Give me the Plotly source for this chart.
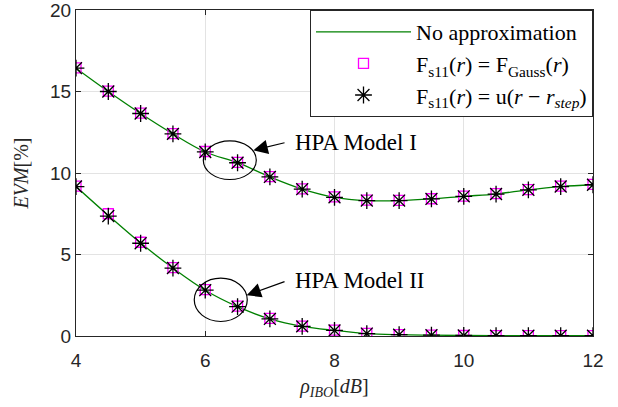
import plotly.graph_objects as go

ibo = [4, 4.5, 5, 5.5, 6, 6.5, 7, 7.5, 8, 8.5, 9, 9.5, 10, 10.5, 11, 11.5, 12]

evm_model1_exact = [16.43, 15.0, 13.65, 12.4, 11.29, 10.63, 9.76, 9.01, 8.51, 8.31, 8.31, 8.41, 8.57, 8.71, 8.97, 9.17, 9.28]
evm_model1_gauss = [16.45, 15.02, 13.67, 12.42, 11.32, 10.65, 9.78, 9.03, 8.53, 8.33, 8.32, 8.42, 8.58, 8.73, 8.98, 9.19, 9.3]
evm_model1_step = [16.43, 15.0, 13.65, 12.4, 11.29, 10.63, 9.76, 9.01, 8.51, 8.31, 8.31, 8.41, 8.57, 8.71, 8.97, 9.17, 9.28]

evm_model2_exact = [9.17, 7.4, 5.7, 4.17, 2.81, 1.8, 1.05, 0.59, 0.34, 0.15, 0.08, 0.05, 0.03, 0.02, 0.02, 0.02, 0.02]
evm_model2_gauss = [9.2, 7.5, 5.75, 4.2, 2.85, 1.83, 1.08, 0.61, 0.36, 0.16, 0.09, 0.05, 0.03, 0.02, 0.02, 0.02, 0.02]
evm_model2_step = [9.17, 7.36, 5.69, 4.17, 2.81, 1.8, 1.05, 0.59, 0.34, 0.15, 0.08, 0.05, 0.03, 0.02, 0.02, 0.02, 0.02]

x_ticks = [4, 6, 8, 10, 12]
y_ticks = [0, 5, 10, 15, 20]

legend_labels = [
    "No approximation",
    "F<sub>s11</sub>(<i>r</i>) = F<sub>Gauss</sub>(<i>r</i>)",
    "F<sub>s11</sub>(<i>r</i>) = u(<i>r</i> − <i>r</i><sub><i>step</i></sub>)",
]
annot_labels = ["HPA Model I", "HPA Model II"]

SERIF = "Liberation Serif"
SANS = "Liberation Sans"
GREEN = "#008000"
MAGENTA = "#ff00ff"

fig = go.Figure()

for i, y in enumerate([evm_model1_exact, evm_model2_exact]):
    fig.add_trace(go.Scatter(
        x=ibo, y=y, mode="lines", line=dict(color=GREEN, width=1.3, shape="spline"),
        name=legend_labels[0], legendgroup="exact", showlegend=(i == 0)))

for i, y in enumerate([evm_model1_gauss, evm_model2_gauss]):
    fig.add_trace(go.Scatter(
        x=ibo, y=y, mode="markers",
        marker=dict(symbol="square-open", size=10, color=MAGENTA, line=dict(width=1.3, color=MAGENTA)),
        name=legend_labels[1], legendgroup="gauss", showlegend=(i == 0)))

for i, y in enumerate([evm_model1_step, evm_model2_step]):
    fig.add_trace(go.Scatter(
        x=ibo, y=y, mode="markers",
        marker=dict(symbol="asterisk-open", size=14, color="black", line=dict(width=1.3, color="black")),
        name=legend_labels[2], legendgroup="step", showlegend=(i == 0)))

# ellipses
fig.add_shape(type="circle", xref="x", yref="y", x0=5.97, x1=6.79, y0=9.6, y1=11.97,
              line=dict(color="black", width=1.2))
fig.add_shape(type="circle", xref="x", yref="y", x0=5.83, x1=6.65, y0=0.89, y1=3.55,
              line=dict(color="black", width=1.2))

# arrows
for (tx, ty, hx, hy) in [(7.25, 11.88, 6.745, 11.39), (7.25, 3.37, 6.64, 2.5)]:
    fig.add_annotation(x=hx, y=hy, ax=tx, ay=ty, xref="x", yref="y", axref="x", ayref="y",
                       text="", showarrow=True, arrowhead=2, arrowsize=2.4, arrowwidth=1.2,
                       arrowcolor="black", standoff=0, startstandoff=0)

for label, (lx, ly) in zip(annot_labels, [(7.36, 11.9), (7.36, 3.43)]):
    fig.add_annotation(x=lx, y=ly, xref="x", yref="y", text=label, showarrow=False,
                       xanchor="left", yanchor="middle",
                       font=dict(family=SERIF, size=23, color="black"))

fig.update_layout(
    width=618, height=407,
    margin=dict(l=76, r=25, t=10, b=71),
    paper_bgcolor="white", plot_bgcolor="white",
    showlegend=True,
    legend=dict(x=1, y=1, xanchor="right", yanchor="top",
                bgcolor="white", bordercolor="#262626", borderwidth=1,
                font=dict(family=SERIF, size=22, color="black"),
                tracegroupgap=0, itemwidth=95),
)

fig.update_xaxes(
    range=[4, 12], tickvals=x_ticks, ticktext=[str(v) for v in x_ticks],
    showgrid=True, gridcolor="#e3e3e3", gridwidth=1,
    showline=True, linecolor="#262626", linewidth=1, mirror="ticks",
    ticks="inside", ticklen=5, tickcolor="#262626", ticklabelstandoff=7,
    tickfont=dict(family=SANS, size=19, color="#262626"),
    zeroline=False, automargin=False, ticklabeloverflow="allow",
    title=dict(text="<i>ρ</i><sub><i>IBO</i></sub>[<i>dB</i>]",
               font=dict(family=SERIF, size=20, color="#262626"), standoff=9),
)
fig.update_yaxes(
    range=[0, 20], tickvals=y_ticks, ticktext=[str(v) for v in y_ticks],
    showgrid=True, gridcolor="#e3e3e3", gridwidth=1,
    showline=True, linecolor="#262626", linewidth=1, mirror="ticks",
    ticks="inside", ticklen=5, tickcolor="#262626",
    tickfont=dict(family=SANS, size=19, color="#262626"),
    zeroline=False, automargin=False, ticklabeloverflow="allow",
    title=dict(text="<i>EVM</i>[%]",
               font=dict(family=SERIF, size=20, color="#262626"), standoff=16),
)

fig.write_html("out.html", config={"displayModeBar": False},
               post_script="document.body.style.margin='0px';")
